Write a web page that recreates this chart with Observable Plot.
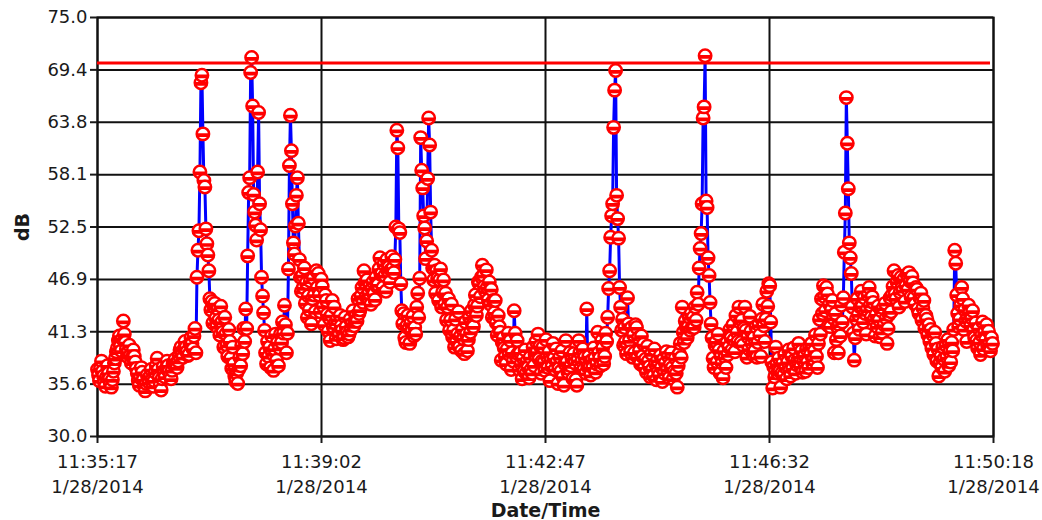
<!DOCTYPE html>
<html>
<head>
<meta charset="utf-8">
<script src="https://cdn.jsdelivr.net/npm/d3@7"></script>
<script src="https://cdn.jsdelivr.net/npm/@observablehq/plot@0.6"></script>
<style>
  html, body { margin: 0; padding: 0; background: #fff; }
  #chart { width: 1042px; height: 520px; }
</style>
</head>
<body>
<div id="chart"></div>
<script>
// ---- data ----
const startTime = "2014-01-28T11:35:17Z";
const endTime = "2014-01-28T11:50:18Z";
const sampleStepSeconds = 1;

const dbValues = [
  37.2, 36.6, 36.0, 37.3, 38.1, 37.0, 36.5, 35.8, 35.4, 36.4, 37.6, 36.8, 36.2, 35.6, 35.3, 36.1, 37.0, 37.9, 38.4, 39.1,
  39.5, 40.3, 40.8, 39.7, 39.2, 40.5, 42.4, 41.0, 40.1, 39.4, 38.6, 39.1, 39.8, 38.7, 37.9, 38.5, 39.3, 38.6, 38.0, 37.3,
  36.8, 36.0, 35.5, 36.3, 37.4, 36.9, 36.1, 35.4, 34.9, 35.7, 36.6, 36.2, 35.8, 36.5, 37.2, 36.1, 35.4, 36.0, 36.9, 37.6,
  38.4, 37.2, 36.3, 35.5, 35.0, 36.2, 37.5, 36.9, 36.4, 37.3, 38.1, 37.6, 37.0, 36.5, 36.2, 37.1, 37.8, 38.0, 38.3, 37.8,
  37.4, 38.1, 38.7, 39.3, 39.6, 38.9, 38.5, 39.4, 40.2, 39.6, 39.1, 38.7, 38.8, 39.9, 40.6, 40.0, 39.4, 40.8, 41.6, 39.0,
  47.1, 50.0, 52.1, 58.4, 68.0, 68.8, 62.5, 57.5, 56.8, 52.3, 50.7, 49.5, 47.8, 44.8, 43.6, 44.5, 42.2, 43.9, 44.3, 42.7,
  41.8, 43.7, 42.5, 40.9, 44.0, 42.3, 41.2, 39.6, 42.8, 41.0, 39.8, 38.6, 41.5, 40.2, 38.4, 37.3, 39.6, 37.8, 36.5, 35.9,
  36.8, 35.7, 37.2, 38.5, 37.6, 39.8, 38.9, 41.6, 40.2, 43.7, 41.6, 49.4, 56.2, 57.8, 69.1, 70.7, 65.5, 56.0, 54.1, 52.7,
  51.1, 58.4, 64.8, 55.0, 52.2, 47.1, 45.1, 43.3, 41.4, 39.0, 37.8, 40.2, 38.6, 39.6, 37.4, 40.8, 38.9, 37.1, 39.4, 41.0,
  38.2, 40.1, 37.6, 39.5, 41.0, 40.1, 42.3, 41.1, 44.1, 42.0, 39.0, 41.1, 48.0, 59.1, 64.5, 60.7, 55.0, 50.8, 49.6, 52.6,
  55.9, 57.8, 52.9, 49.0, 47.1, 45.6, 47.3, 46.0, 48.1, 44.3, 46.5, 42.8, 45.1, 43.6, 46.7, 42.1, 44.8, 47.0, 45.2, 43.4,
  47.8, 46.0, 47.5, 45.2, 43.4, 46.9, 46.1, 44.0, 42.0, 45.2, 44.6, 43.1, 41.3, 42.7, 40.3, 43.0, 44.6, 41.8, 43.9, 42.2,
  40.5, 42.6, 41.1, 40.9, 43.0, 41.9, 41.4, 40.4, 40.6, 42.8, 41.8, 41.2, 40.7, 41.0, 42.6, 41.5, 42.1, 43.5, 41.9, 42.4,
  43.0, 42.4, 44.8, 43.2, 43.6, 45.1, 46.0, 44.4, 47.8, 46.5, 45.0, 46.8, 44.9, 45.4, 46.2, 44.2, 45.9, 46.6, 45.3, 44.7,
  47.1, 46.1, 46.3, 48.0, 49.2, 47.4, 47.5, 46.0, 48.5, 47.3, 45.6, 49.0, 47.8, 48.2, 46.6, 47.9, 49.3, 48.1, 47.6, 49.0,
  52.5, 62.9, 61.0, 52.3, 51.9, 46.4, 43.5, 42.1, 43.2, 40.6, 40.1, 41.9, 43.0, 41.6, 40.0, 42.2, 41.3, 42.9, 40.8, 41.7,
  41.0, 43.9, 45.4, 42.8, 47.0, 62.1, 58.6, 56.7, 53.7, 52.4, 49.1, 51.0, 57.7, 64.2, 61.3, 54.1, 50.0, 48.1, 46.8, 48.4,
  45.4, 47.8, 47.0, 44.6, 46.8, 48.0, 43.9, 45.5, 46.8, 44.2, 45.4, 42.5, 43.9, 44.8, 41.4, 42.5, 44.2, 40.7, 41.4, 39.6,
  42.6, 40.2, 41.0, 43.4, 39.6, 40.8, 39.2, 41.5, 40.5, 38.9, 42.3, 41.0, 39.2, 40.4, 42.8, 41.2, 43.5, 42.0, 41.8, 44.1,
  45.2, 43.0, 44.0, 46.6, 46.4, 45.0, 47.1, 48.4, 47.3, 46.1, 45.6, 47.9, 46.0, 44.7, 46.6, 44.2, 45.8, 42.8, 44.6, 43.3,
  44.6, 42.2, 40.9, 43.0, 41.8, 41.2, 38.2, 40.1, 40.6, 39.5, 38.6, 37.8, 39.4, 41.1, 38.8, 40.3, 37.2, 39.0, 38.1, 43.5,
  41.1, 38.6, 40.3, 38.9, 37.2, 39.0, 37.8, 36.2, 38.4, 37.0, 39.3, 36.8, 38.1, 37.4, 36.3, 38.5, 37.2, 36.8, 39.6, 37.6,
  38.8, 40.2, 39.1, 41.0, 38.3, 39.7, 36.8, 38.1, 39.6, 38.0, 37.1, 40.4, 38.6, 37.4, 39.1, 36.0, 38.2, 37.5, 40.0, 38.4,
  37.2, 39.4, 38.0, 35.7, 37.3, 38.5, 37.0, 39.2, 36.4, 35.5, 37.8, 40.3, 38.0, 36.9, 37.3, 39.0, 37.6, 38.4, 36.2, 38.9,
  37.9, 36.1, 35.5, 38.2, 40.3, 39.0, 37.4, 38.1, 39.4, 37.2, 38.5, 36.8, 43.7, 37.5, 38.6, 37.4, 36.6, 38.2, 37.4, 39.5,
  38.4, 36.9, 37.8, 41.2, 39.0, 38.4, 37.6, 40.3, 39.5, 37.8, 38.6, 41.1, 40.2, 42.8, 45.9, 47.8, 51.4, 53.7, 55.0, 63.2,
  67.2, 69.3, 55.9, 53.4, 51.3, 46.0, 43.9, 41.4, 42.6, 39.8, 41.7, 40.2, 38.9, 44.9, 42.1, 40.3, 39.1, 41.7, 38.5, 40.9,
  39.0, 42.0, 41.7, 38.5, 40.6, 39.2, 37.8, 40.8, 38.6, 39.9, 37.4, 38.3, 36.9, 39.7, 38.1, 37.5, 36.4, 38.9, 37.2, 36.5,
  39.4, 37.8, 36.1, 38.2, 37.0, 36.6, 38.7, 37.4, 35.9, 38.3, 36.8, 37.9, 39.1, 37.2, 38.6, 36.3, 37.7, 39.0, 37.4, 36.2,
  37.0, 38.4, 36.8, 35.3, 37.6, 38.9, 40.0, 38.5, 43.9, 41.2, 40.1, 42.4, 41.7, 40.6, 41.8, 42.8, 41.4, 43.2, 41.7, 42.8,
  41.7, 43.9, 42.5, 45.5, 44.2, 48.1, 50.2, 51.8, 55.0, 64.2, 65.4, 70.9, 55.3, 54.6, 49.2, 47.3, 44.4, 42.1, 40.6, 38.4,
  37.4, 39.8, 40.2, 38.0, 41.0, 39.3, 36.8, 38.6, 37.9, 36.3, 39.2, 38.5, 37.4, 40.1, 38.8, 39.6, 41.5, 40.6, 39.3, 42.0,
  40.4, 39.1, 43.0, 41.2, 40.2, 43.9, 42.3, 40.1, 42.5, 39.8, 41.6, 43.9, 41.4, 38.5, 40.7, 39.4, 42.9, 41.3, 40.0, 38.8,
  40.6, 39.2, 41.8, 38.5, 40.1, 42.0, 40.9, 38.6, 42.6, 44.2, 41.9, 40.2, 42.6, 45.6, 44.0, 46.4, 46.2, 42.3, 38.0, 35.2,
  37.5, 36.4, 39.6, 37.8, 36.8, 38.4, 37.0, 35.3, 36.8, 37.9, 36.6, 38.8, 37.4, 36.2, 38.0, 39.3, 37.1, 36.5, 38.6, 37.3,
  39.5, 38.2, 36.8, 37.7, 38.2, 40.0, 38.6, 37.5, 39.2, 36.9, 38.1, 38.7, 37.0, 39.4, 38.0, 37.4, 39.6, 38.8, 40.0, 37.9,
  38.3, 39.2, 40.9, 38.6, 37.4, 40.0, 42.6, 41.0, 44.8, 43.2, 46.2, 45.0, 43.5, 46.0, 45.3, 41.9, 44.2, 41.8, 43.6, 44.6,
  42.7, 39.0, 43.2, 40.4, 41.8, 39.0, 42.0, 40.8, 44.1, 42.3, 44.9, 49.8, 54.0, 66.4, 61.5, 56.6, 50.8, 49.2, 47.5, 43.9,
  41.1, 38.2, 40.6, 42.6, 44.8, 43.1, 41.5, 43.9, 45.6, 44.0, 42.3, 44.9, 43.2, 41.0, 43.6, 45.2, 46.0, 44.1, 42.8, 45.0,
  44.4, 42.6, 40.8, 43.1, 41.8, 44.0, 42.5, 40.7, 43.5, 41.2, 43.8, 42.0, 44.3, 42.7, 40.0, 41.6, 43.1, 44.9, 43.4, 45.2,
  46.1, 47.8, 45.3, 44.8, 46.6, 47.3, 43.9, 45.5, 47.1, 46.0, 45.7, 46.9, 44.5, 46.2, 47.4, 45.8, 47.6, 46.7, 45.0, 47.2,
  46.5, 44.9, 44.2, 46.0, 45.8, 43.7, 43.2, 44.9, 45.4, 42.5, 43.8, 44.6, 41.6, 43.0, 42.6, 40.9, 42.0, 40.2, 41.5, 39.5,
  40.9, 38.8, 41.2, 40.0, 38.1, 39.4, 36.5, 37.9, 38.6, 37.4, 39.6, 38.3, 37.0, 39.8, 38.5, 40.4, 37.6, 39.1, 38.0, 40.1,
  39.2, 41.5, 50.0, 48.6, 45.2, 43.2, 41.8, 42.6, 44.1, 46.0, 44.8, 41.5, 43.6, 42.4, 40.2, 42.8, 44.1, 43.3, 41.9, 42.7,
  43.5, 41.4, 40.6, 42.2, 40.3, 39.5, 41.6, 40.1, 38.8, 40.9, 42.3, 39.4, 41.2, 40.4, 42.0, 39.8, 41.3, 40.0, 39.2, 40.6,
  40.0
];

const limitDb = 70.1;

const yTickValues = [30, 35.625, 41.25, 46.875, 52.5, 58.125, 63.75, 69.375, 75];
const yTickLabels = ["30.0", "35.6", "41.3", "46.9", "52.5", "58.1", "63.8", "69.4", "75.0"];

const xTimeLabels = ["11:35:17", "11:39:02", "11:42:47", "11:46:32", "11:50:18"];
const xDateLabels = ["1/28/2014", "1/28/2014", "1/28/2014", "1/28/2014", "1/28/2014"];

const yLabel = "dB";
const xLabel = "Date/Time";

// ---- build table ----
const t0 = new Date(startTime);
const t1 = new Date(endTime);
const rows = dbValues.map((v, i) => ({
  time: new Date(+t0 + i * sampleStepSeconds * 1000),
  db: v
}));
const xTickDates = xTimeLabels.map((_, i) => new Date(+t0 + i * (t1 - t0) / (xTimeLabels.length - 1)));
const xTicks = xTickDates.map((d, i) => ({ date: d, time: xTimeLabels[i], day: xDateLabels[i] }));

// custom marker: circle with a thick horizontal band below centre
const markerSymbol = {
  draw(context, size) {
    const r = Math.sqrt(size / Math.PI);
    context.moveTo(r, 0);
    context.arc(0, 0, r, 0, 2 * Math.PI);
    context.closePath();
    context.moveTo(-r, r * 0.1);
    context.lineTo(r, r * 0.1);
    context.moveTo(-r * 0.95, r * 0.3);
    context.lineTo(r * 0.95, r * 0.3);
  }
};

const chart = Plot.plot({
  width: 1042,
  height: 520,
  marginLeft: 97,
  marginRight: 49,
  marginTop: 17,
  marginBottom: 84,
  style: { fontFamily: "'DejaVu Sans', Verdana, sans-serif", fontSize: "18px", color: "#1a1a1a", background: "#fff" },
  x: { type: "utc", domain: [t0, t1] },
  y: { domain: [30, 75] },
  marks: [
    Plot.gridY(yTickValues, { stroke: "#111", strokeOpacity: 1, strokeWidth: 2 }),
    Plot.gridX(xTickDates, { stroke: "#111", strokeOpacity: 1, strokeWidth: 2 }),
    Plot.frame({ stroke: "#111", strokeWidth: 2 }),
    Plot.axisY(yTickValues, {
      tickSize: 7, tickPadding: 3, strokeWidth: 2,
      tickFormat: (d) => yTickLabels[yTickValues.indexOf(d)],
      label: null, fontSize: 18
    }),
    Plot.axisX(xTickDates, { tickSize: 7, strokeWidth: 2, tickFormat: () => "", label: null }),
    Plot.text(xTicks, { x: "date", text: "time", frameAnchor: "bottom", lineAnchor: "middle", dy: 26, fontSize: 18, fill: "#1a1a1a" }),
    Plot.text(xTicks, { x: "date", text: "day", frameAnchor: "bottom", lineAnchor: "middle", dy: 51, fontSize: 18, fill: "#1a1a1a" }),
    Plot.text([yLabel], { frameAnchor: "left", textAnchor: "middle", lineAnchor: "middle", dx: -75, rotate: -90, fontWeight: "bold", fontSize: 19, fill: "#1a1a1a" }),
    Plot.text([xLabel], { frameAnchor: "bottom", lineAnchor: "middle", dy: 74, fontWeight: "bold", fontSize: 19, fill: "#1a1a1a" }),
    Plot.lineY(rows, { x: "time", y: "db", stroke: "#0000ff", strokeWidth: 3 }),
    Plot.ruleY([limitDb], { x1: t0, x2: new Date(+t1 - 3000), stroke: "#ff0000", strokeWidth: 3 }),
    Plot.dot(rows, { x: "time", y: "db", r: 6.2, symbol: markerSymbol, fill: "#fff", stroke: "#ff0000", strokeWidth: 2.5 })
  ]
});
document.getElementById("chart").appendChild(chart);
</script>
</body>
</html>
